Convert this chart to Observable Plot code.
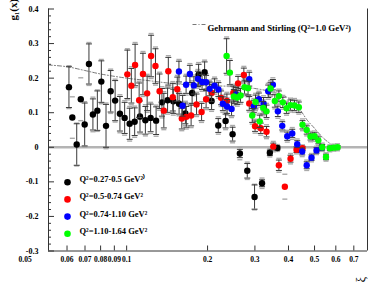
<!DOCTYPE html>
<html><head><meta charset="utf-8">
<script src="https://cdn.jsdelivr.net/npm/d3@7"></script>
<script src="https://cdn.jsdelivr.net/npm/@observablehq/plot@0.6"></script>
<style>body{margin:0;background:#fff}</style>
</head><body><div id="chart"></div>
<script>
// ---- data ----
const seriesNames = ["Q²=0.27-0.5 GeV²⁾", "Q²=0.5-0.74 GeV²", "Q²=0.74-1.10 GeV²", "Q²=1.10-1.64 GeV²"];
const seriesColors = ["#000000", "#ff0000", "#0000ff", "#00ff00"];

const blackX = [0.0610,0.0628,0.0652,0.0675,0.0698,0.0724,0.0749,0.0778,0.0805,0.0838,0.0872,0.0906,0.0944,0.0983,0.1026,0.1071,0.1121,0.1174,0.1228,0.1287,0.1353,0.1420,0.1491,0.1567,0.1654,0.1752,0.1852,0.1950,0.2070,0.2192,0.2334,0.2478,0.2638,0.2810,0.2991,0.3189,0.3410,0.3637];
const blackY = [0.174,0.086,0.008,0.139,0.066,0.241,0.095,0.106,0.190,0.062,0.162,0.135,0.097,0.085,0.068,0.074,0.089,0.078,0.085,0.077,0.130,0.136,0.133,0.126,0.098,0.157,0.210,0.217,0.134,0.063,0.076,0.038,-0.018,-0.068,-0.144,-0.104,-0.016,-0.002];
const blackStat = [0.059,0,0.060,0,0.062,0.058,0.045,0.057,0.060,0.062,0.060,0.058,0.050,0.045,0.045,0.040,0.045,0.040,0.040,0.040,0.040,0.035,0.035,0.030,0.030,0.030,0.030,0.030,0.025,0.020,0.020,0.020,0.012,0.021,0.035,0.010,0.008,0.006];
const blackSys = [0.062,0.060,0.062,0.062,0.066,0.062,0.050,0.060,0.064,0.066,0.064,0.062,0.055,0.050,0.050,0.045,0.050,0.045,0.045,0.045,0.045,0.040,0.040,0.035,0.035,0.035,0.035,0.035,0.030,0.025,0.025,0.025,0.018,0.025,0.037,0.015,0.012,0.010];

const redX = [0.1006,0.1041,0.1075,0.1113,0.1150,0.1192,0.1233,0.1280,0.1326,0.1375,0.1429,0.1485,0.1543,0.1604,0.1667,0.1737,0.1820,0.1900,0.1975,0.2070,0.2245,0.2360,0.2493,0.2597,0.2729,0.2858,0.3004,0.3154,0.3314,0.3511,0.3684,0.3877,0.4071,0.4285,0.4510];
const redY = [0.211,0.178,0.238,0.136,0.212,0.156,0.264,0.235,0.162,0.106,0.220,0.145,0.168,0.083,0.088,0.092,0.124,0.102,0.139,0.157,0.143,0.134,0.157,0.185,0.209,0.127,0.061,0.055,0.045,0.002,-0.052,-0.114,-0.033,-0.007,-0.003];
const redStat = [0.070,0.050,0.060,0.050,0.060,0.050,0.060,0.050,0.050,0.050,0.040,0.040,0.035,0.030,0.030,0.030,0.030,0.025,0.025,0.025,0.020,0.020,0.020,0.020,0.020,0.020,0.015,0.015,0.015,0.010,0.015,0,0.010,0.008,0.006];
const redSys = [0.074,0.055,0.065,0.055,0.065,0.055,0.065,0.055,0.055,0.055,0.045,0.045,0.040,0.035,0.035,0.035,0.035,0.030,0.030,0.030,0.025,0.025,0.025,0.025,0.025,0.025,0.020,0.020,0.020,0.015,0.020,0.036,0.015,0.012,0.010];

const blueX = [0.1565,0.1615,0.1664,0.1719,0.1779,0.1841,0.1908,0.1975,0.2035,0.2124,0.2194,0.2280,0.2363,0.2456,0.2553,0.2858,0.2973,0.3104,0.3231,0.3363,0.3499,0.3652,0.3792,0.3958,0.4131,0.4311,0.4499,0.4676,0.4872,0.5085,0.5321];
const blueY = [0.219,0.120,0.181,0.212,0.179,0.198,0.189,0.188,0.169,0.178,0.167,0.126,0.118,0.111,0.153,0.197,0.118,0.139,0.126,0.162,0.181,0.104,0.062,0.032,0.040,0.009,-0.012,-0.052,-0.030,-0.009,-0.001];
const blueStat = [0.030,0.030,0.025,0.025,0.025,0.022,0.022,0.020,0.020,0.020,0.020,0.020,0.020,0.020,0.020,0.020,0.018,0.018,0.018,0.018,0.015,0.015,0.012,0.012,0.012,0.010,0.010,0.010,0.008,0.008,0.006];
const blueSys = [0.035,0.035,0.030,0.030,0.030,0.027,0.027,0.025,0.025,0.025,0.025,0.025,0.025,0.025,0.025,0.025,0.023,0.023,0.023,0.023,0.020,0.020,0.017,0.017,0.017,0.015,0.015,0.015,0.012,0.012,0.010];

const greenX = [0.2354,0.2421,0.2505,0.2579,0.2653,0.2745,0.2829,0.2932,0.3016,0.3126,0.3221,0.3314,0.3430,0.3559,0.3684,0.3811,0.3934,0.4071,0.4212,0.4370,0.4510,0.4676,0.4831,0.5000,0.5165,0.5339,0.5516,0.5699,0.5897,0.6088];
const greenY = [0.264,0.216,0.147,0.144,0.150,0.174,0.171,0.092,0.131,0.075,0.114,0.104,0.170,0.134,0.148,0.130,0.113,0.122,0.121,0.116,0.065,0.050,0.031,0.032,0.020,0.000,-0.028,-0.003,-0.001,0.000];
const greenStat = [0.050,0.035,0.020,0.020,0.020,0.020,0.020,0.020,0.020,0.018,0.018,0.018,0.018,0.018,0.015,0.015,0.015,0.015,0.015,0.015,0.012,0.012,0.010,0.010,0.010,0.008,0.008,0.006,0.006,0.005];
const greenSys = [0.055,0.040,0.025,0.025,0.025,0.025,0.025,0.025,0.025,0.023,0.023,0.023,0.023,0.023,0.020,0.020,0.020,0.020,0.020,0.020,0.017,0.017,0.015,0.015,0.015,0.012,0.012,0.010,0.010,0.010];

const curveX = [0.0512,0.060,0.070,0.080,0.100,0.120,0.150,0.200,0.250,0.300,0.340,0.373,0.407,0.443,0.470,0.500,0.535,0.573,0.600];
const curveY = [0.238,0.233,0.222,0.212,0.200,0.193,0.184,0.178,0.176,0.170,0.162,0.153,0.138,0.107,0.078,0.055,0.029,0.010,0.000];
const curveLabel = "Gehrmann and Stirling (Q²=1.0 GeV²)";

const xTickValues = [0.06,0.07,0.08,0.09,0.1,0.2,0.3,0.4,0.5,0.6,0.7];
const xFirstLabel = "0.05";
const yTickValues = [-0.3,-0.2,-0.1,0,0.1,0.2,0.3,0.4];
const xTitle = "ξ";
const yTitle = "g₁(x)";

// ---- build tables ----
const groups = [
  [blackX, blackY, blackStat, blackSys],
  [redX, redY, redStat, redSys],
  [blueX, blueY, blueStat, blueSys],
  [greenX, greenY, greenStat, greenSys]
].map(([xs, ys, st, sy], k) => xs.map((x, i) => ({x, y: ys[i], e: st[i], s: sy[i], c: seriesColors[k]})));
const curve = curveX.map((x, i) => ({x, y: curveY[i]}));
const yMinor = d3.range(-0.3, 0.4001, 0.02).filter(v => Math.abs(Math.round(v * 10) - v * 10) > 1e-6);

const hline = w => ({draw(ctx) { ctx.moveTo(-w, 0); ctx.lineTo(w, 0); }});
const font = "Liberation Serif, Times New Roman, serif";
const xDomain = [0.0512, 0.787];

const marks = [
  Plot.ruleY([0], {stroke: "#b4b4b4", strokeWidth: 2.5}),
  Plot.ruleX(xDomain, {stroke: "#333", strokeWidth: 1}),
  Plot.ruleY([-0.3], {stroke: "#333", strokeWidth: 1}),
  Plot.tickY(yTickValues, {y: d => d, insetRight: 313, stroke: "#333"}),
  Plot.tickY(yMinor, {y: d => d, insetRight: 316, stroke: "#333"}),
  Plot.tickX(xTickValues, {x: d => d, insetTop: 237, stroke: "#333"}),
  Plot.axisY(yTickValues, {tickSize: 0, tickPadding: 10, tickFormat: d => d === 0 ? "0" : d.toFixed(1), label: null, fontSize: 8, fontWeight: "bold", fontFamily: font}),
  Plot.axisX({ticks: [], label: null, tickSize: 0}),
  Plot.text(xTickValues, {x: d => d, text: d => String(d), frameAnchor: "bottom", dy: 11, fontSize: 7.5, fontWeight: "bold", fontFamily: font}),
  Plot.text([xFirstLabel], {text: d => d, frameAnchor: "bottom-left", dx: -30, dy: 11, fontSize: 7.5, fontWeight: "bold", fontFamily: font}),
  Plot.line(curve, {x: "x", y: "y", curve: "catmull-rom", stroke: "#555", strokeWidth: 0.8, strokeDasharray: "4,2,1,2"})
];
// systematic markers
for (const g of groups) {
  const sys = g.flatMap(d => [{x: d.x, y: d.y - d.s}, {x: d.x, y: d.y + d.s}]);
  marks.push(Plot.dot(sys, {x: "x", y: "y", symbol: hline(2.5), stroke: "#aaaaaa", strokeWidth: 1.4, fill: "none"}));
}
// statistical bars + markers
for (const g of groups) {
  const withErr = g.filter(d => d.e > 0);
  const caps = withErr.flatMap(d => [{x: d.x, y: d.y - d.e}, {x: d.x, y: d.y + d.e}]);
  marks.push(Plot.ruleX(withErr, {x: "x", y1: d => d.y - d.e, y2: d => d.y + d.e, stroke: "#3a3a3a", strokeWidth: 1}));
  marks.push(Plot.dot(caps, {x: "x", y: "y", symbol: hline(3), stroke: "#3a3a3a", strokeWidth: 1, fill: "none"}));
  marks.push(Plot.dot(g, {x: "x", y: "y", r: 3.2, fill: "c", stroke: "none"}));
}
// legends
seriesNames.forEach((name, i) => {
  const dy = -68.8 + i * 17.2;
  marks.push(Plot.dot([name], {frameAnchor: "bottom-left", dx: 19, dy, r: 3.3, fill: seriesColors[i]}));
  marks.push(Plot.text([name], {text: d => d, frameAnchor: "bottom-left", dx: 31, dy, textAnchor: "start", fontSize: 8.5, fontWeight: "bold", fontFamily: font}));
});
marks.push(Plot.dot([curveLabel], {frameAnchor: "top-left", dx: 150.5, dy: 15.5, symbol: hline(6.5), stroke: "#555", strokeWidth: 0.8, strokeDasharray: "4,2,1,2", fill: "none"}));
marks.push(Plot.text([curveLabel], {text: d => d, frameAnchor: "top-left", dx: 159, dy: 15.5, textAnchor: "start", fontSize: 8.8, fontWeight: "bold", fontFamily: font}));
marks.push(Plot.text([yTitle], {text: d => d, frameAnchor: "top-left", dx: -39, dy: 11.5, rotate: -90, fontSize: 11, fontWeight: "bold", fontFamily: font}));
marks.push(Plot.text([xTitle], {text: d => d, frameAnchor: "bottom-right", dx: -3, dy: 26, rotate: -90, fontSize: 12, fontFamily: font}));

const chart = Plot.plot({
  width: 380, height: 291,
  marginLeft: 48, marginRight: 13, marginTop: 8.5, marginBottom: 40.5,
  style: {fontFamily: font, background: "white", color: "#000", overflow: "visible"},
  x: {type: "log", domain: xDomain},
  y: {domain: [-0.3, 0.4]},
  marks
});
document.getElementById("chart").appendChild(chart);
</script>
</body></html>
